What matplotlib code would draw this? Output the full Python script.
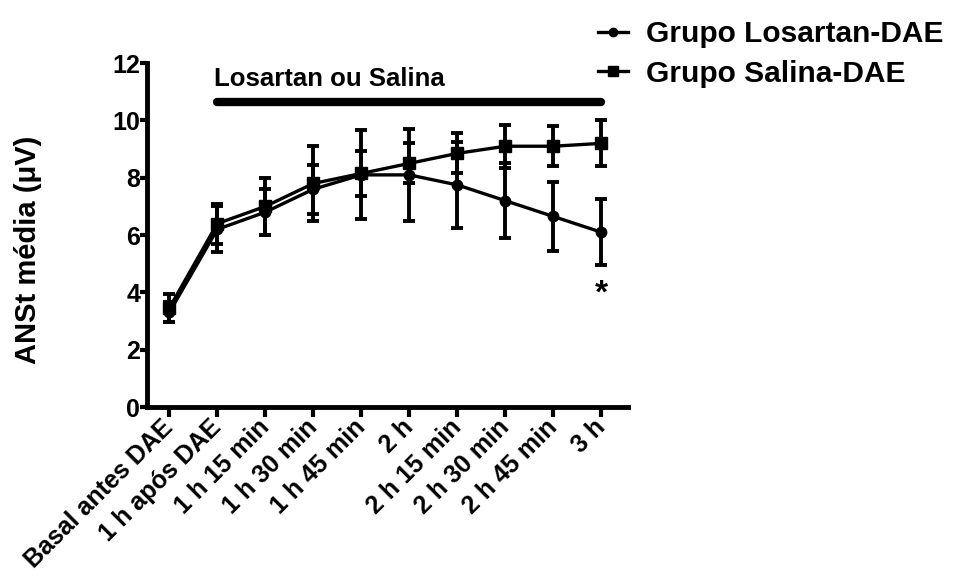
import numpy as np
import matplotlib
matplotlib.use("Agg")
import matplotlib.pyplot as plt
import matplotlib.transforms as mtransforms
from matplotlib.lines import Line2D

plt.rcParams['font.family'] = ['Liberation Sans', 'DejaVu Sans']
plt.rcParams['font.weight'] = 'bold'

labels = ["Basal antes DAE", "1 h após DAE", "1 h 15 min", "1 h 30 min", "1 h 45 min",
          "2 h", "2 h 15 min", "2 h 30 min", "2 h 45 min", "3 h"]
losartan = [3.3, 6.2, 6.8, 7.6, 8.1, 8.1, 7.75, 7.2, 6.65, 6.1]
losartan_err = [0.35, 0.8, 0.8, 0.85, 1.55, 1.6, 1.5, 1.3, 1.2, 1.15]
salina = [3.45, 6.4, 7.0, 7.8, 8.15, 8.5, 8.85, 9.1, 9.1, 9.2]
salina_err = [0.5, 0.7, 1.0, 1.3, 0.8, 0.7, 0.7, 0.75, 0.7, 0.8]

x = np.arange(len(labels))
fig = plt.figure(figsize=(9.62, 5.79), dpi=100)
ax = fig.add_axes([0.153, 0.297, 0.50, 0.594])

ax.errorbar(x, losartan, yerr=losartan_err, color="black", marker="o", ms=7.5, lw=2.4,
            elinewidth=2.8, capsize=4, capthick=2.8)
ax.errorbar(x, salina, yerr=salina_err, color="black", marker="s", ms=8.5, lw=2.4,
            elinewidth=2.8, capsize=4, capthick=2.8)

# treatment bar
ax.plot([1, 9], [10.65, 10.65], color="black", lw=6, solid_capstyle="round", clip_on=False)
ax.text(0.93, 11.2, "Losartan ou Salina", fontsize=18.5, fontweight="bold", ha="left", va="baseline")
ax.text(9, 3.95, "*", fontsize=24, fontweight="bold", ha="center", va="center")

ax.set_xlim(-0.46, 9.56)
ax.set_ylim(0, 12)
ax.set_yticks(range(0, 13, 2))
ax.set_xticks(x)
ax.set_xticklabels(labels, rotation=45, ha="right", va="center", rotation_mode="anchor",
                   fontsize=18, fontweight="bold")
shift = mtransforms.ScaledTranslation(-0.05, 0, fig.dpi_scale_trans)
for lab in ax.get_xticklabels():
    lab.set_transform(lab.get_transform() + shift)
ax.tick_params(axis="y", labelsize=18, width=3, length=5, pad=0)
ax.tick_params(axis="x", width=3, length=7, pad=5)
for s in ["top", "right"]:
    ax.spines[s].set_visible(False)
for s in ["left", "bottom"]:
    ax.spines[s].set_linewidth(3.5)
ax.set_ylabel("ANSt média (μV)", fontsize=21, fontweight="bold")
ax.yaxis.set_label_coords(-0.218, 0.456)

handles = [Line2D([], [], color="black", lw=2.4, marker="o", ms=6),
           Line2D([], [], color="black", lw=2.4, marker="s", ms=7)]
ax.legend(handles, ["Grupo Losartan-DAE", "Grupo Salina-DAE"], loc="upper left",
          bbox_to_anchor=(0.6, 1.001), bbox_transform=fig.transFigure,
          frameon=False, fontsize=21.5, handlelength=1.0, handletextpad=0.6,
          labelspacing=0.38, borderpad=0.2)

fig.savefig("out.png", dpi=100)
